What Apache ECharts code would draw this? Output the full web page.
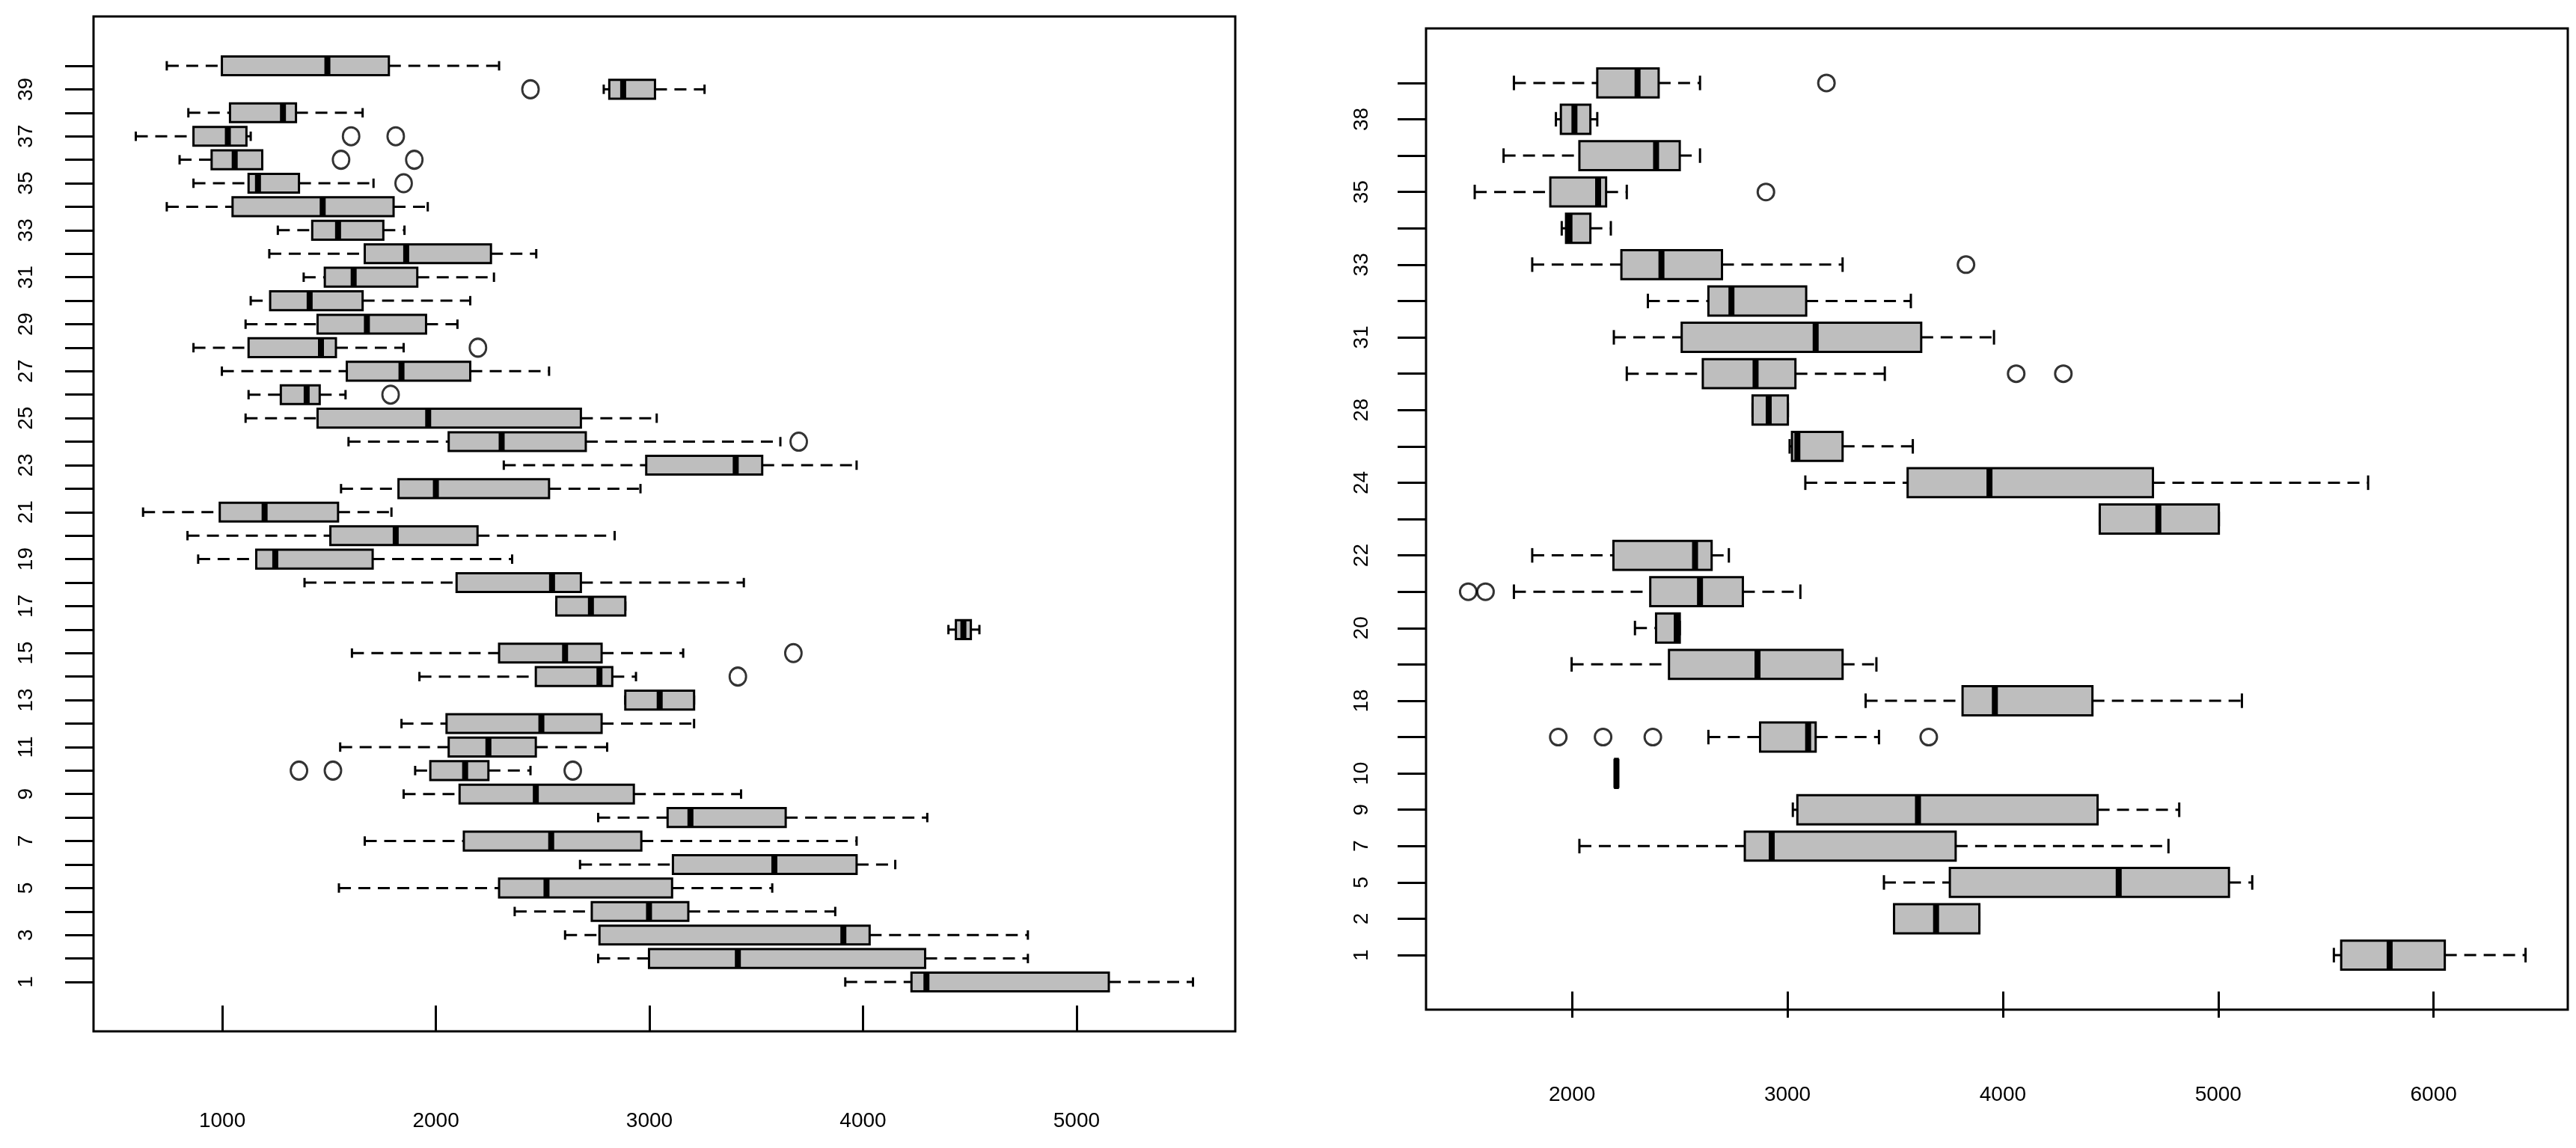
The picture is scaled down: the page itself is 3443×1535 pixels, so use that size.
<!DOCTYPE html>
<html><head><meta charset="utf-8">
<script src="https://cdn.jsdelivr.net/npm/echarts@6/dist/echarts.min.js"></script>
<style>html,body{margin:0;padding:0;background:#fff}#c{width:3443px;height:1535px}</style>
</head><body><div id="c"></div>
<script>
// ---------- LEFT PANEL (40 groups, bottom -> top) ----------
const leftCategories = ['1','2','3','4','5','6','7','8','9','10','11','12','13','14','15','16','17','18','19','20',
  '21','22','23','24','25','26','27','28','29','30','31','32','33','34','35','36','37','38','39','40'];
const leftLow  = [3917,2760,2605,2369,1546,2675,1667,2760,1849,1903,1552,1839,2887,1923,1607,4400,2564,1385,887,837,
  629,1556,2318,1591,1109,1123,998,865,1109,1133,1381,1220,1260,740,865,800,595,841,2786,740];
const leftQ1   = [4227,2998,2766,2730,2296,3110,2131,3085,2111,1974,2060,2050,2887,2468,2296,4435,2564,2097,1159,1506,
  988,1825,2985,2060,1446,1274,1583,1123,1446,1224,1480,1667,1421,1048,1123,950,865,1036,2812,998];
const leftMed  = [4297,3414,3908,2998,2518,3585,2540,3192,2468,2137,2246,2494,3048,2766,2605,4470,2726,2544,1248,1812,
  1198,2000,3404,2308,1964,1395,1839,1462,1677,1409,1615,1861,1542,1470,1167,1058,1026,1284,2877,1492];
const leftQ3   = [5151,4291,4031,3182,3106,3970,2962,3638,2927,2246,2468,2776,3209,2826,2776,4505,2887,2679,1704,2195,
  1542,2530,3528,2702,2679,1456,2161,1532,1954,1657,1913,2258,1754,1802,1359,1187,1113,1345,3026,1780];
const leftHigh = [5545,4772,4772,3870,3575,4151,3970,4301,3429,2443,2802,3209,3209,2937,3158,4545,2887,3442,2357,2837,
  1792,2958,3970,3613,3034,1577,2530,1849,2101,2161,2272,2470,1853,1962,1708,1187,1133,1657,3258,2296];
const leftOutGroup = ['10','10','10','14','15','24','26','28','35','36','36','37','37','39'];
const leftOutValue = [1359,1518,2641,3414,3674,3699,1788,2197,1849,1556,1899,1603,1812,2443];
const leftTickLabels = ['1','3','5','7','9','11','13','15','17','19','21','23','25','27','29','31','33','35','37','39'];
const leftXTicks = [1000,2000,3000,4000,5000];

// ---------- RIGHT PANEL (25 groups, bottom -> top) ----------
const rightCategories = ['1','2','5','7','9','10','11','18','19','20','21','22','23','24','25','28','29','31','32','33',
  '34','35','36','38','39'];
const rightLow  = [5537,3495,3448,2034,3025,2200,2633,3363,1998,2292,1730,1815,4450,3083,3010,2838,2254,2194,2352,1815,
  1952,1548,1682,1925,1730];
const rightQ1   = [5571,3495,3754,2802,3046,2200,2873,3813,2450,2390,2363,2192,4450,3558,3021,2838,2607,2509,2633,2229,
  1972,1899,2034,1948,2117];
const rightMed  = [5796,3690,4538,2927,3606,2206,3096,3963,2861,2486,2594,2571,4722,3938,3046,2913,2852,3131,2740,2415,
  1988,2121,2390,2011,2304];
const rightQ3   = [6052,3891,5050,3781,4440,2212,3131,4416,3256,2500,2793,2648,5003,4697,3256,3002,3037,3621,3087,2696,
  2085,2158,2500,2085,2402];
const rightHigh = [6427,3891,5158,4769,4819,2212,3425,5110,3413,2500,3060,2728,5003,5696,3582,3002,3452,3959,3573,3256,
  2180,2254,2594,2117,2594];
const rightOutGroup = ['11','11','11','11','21','21','29','29','33','35','39'];
const rightOutValue = [1936,2144,2375,3656,1518,1598,4062,4281,3829,2900,3181];
const rightTickLabels = ['1','2','5','7','9','10','18','20','22','24','28','31','33','35','38'];
const rightXTicks = [2000,3000,4000,5000,6000];

// ---------- build ----------
function boxData(cats, lo, q1, md, q3, hi) {
  return cats.map((c, i) => [i + 1, lo[i], q1[i], md[i], q3[i], hi[i]]);
}
function outData(cats, groups, vals) {
  return groups.map((g, i) => [vals[i], cats.indexOf(g) + 1]);
}
function positionsOf(cats, labels) { return labels.map(l => cats.indexOf(l) + 1); }

function renderBox(params, api) {
  const pos = api.value(0);
  const lo = api.value(1), q1 = api.value(2), md = api.value(3), q3 = api.value(4), hi = api.value(5);
  const unit = Math.abs(api.size([0, 1])[1]);
  const h = unit * 0.8, half = h / 2, st = h / 4;
  const y = api.coord([md, pos])[1];
  const X = v => api.coord([v, pos])[0];
  const dash = { stroke: '#000', lineWidth: 3, lineDash: [16, 10], fill: null };
  const solid = { stroke: '#000', lineWidth: 3, fill: null };
  const ch = [];
  if (lo < q1) ch.push({ type: 'line', shape: { x1: X(lo), y1: y, x2: X(q1), y2: y }, style: dash });
  if (hi > q3) ch.push({ type: 'line', shape: { x1: X(q3), y1: y, x2: X(hi), y2: y }, style: dash });
  ch.push({ type: 'line', shape: { x1: X(lo), y1: y - st, x2: X(lo), y2: y + st }, style: solid });
  ch.push({ type: 'line', shape: { x1: X(hi), y1: y - st, x2: X(hi), y2: y + st }, style: solid });
  ch.push({ type: 'rect', shape: { x: X(q1), y: y - half, width: Math.max(X(q3) - X(q1), 1), height: h },
    style: { fill: '#bebebe', stroke: '#000', lineWidth: 3 } });
  ch.push({ type: 'line', shape: { x1: X(md), y1: y - half, x2: X(md), y2: y + half },
    style: { stroke: '#000', lineWidth: 8 } });
  return { type: 'group', children: ch };
}

const labelFont = { color: '#000', fontSize: 28, fontFamily: "'Liberation Sans Narrow', 'Liberation Sans', Arial, sans-serif" };

function xAxisCfg(idx, min, max, ticks, margin) {
  return {
    type: 'value', gridIndex: idx, min: min, max: max,
    splitLine: { show: false }, axisLine: { show: false },
    axisTick: { show: true, length: 35, lineStyle: { color: '#000', width: 3 }, customValues: ticks },
    axisLabel: Object.assign({ margin: margin, customValues: ticks, formatter: v => String(v) }, labelFont)
  };
}
function yAxisCfg(idx, min, max, cats, labels, margin) {
  const all = cats.map((c, i) => i + 1);
  return {
    type: 'value', gridIndex: idx, min: min, max: max,
    splitLine: { show: false }, axisLine: { show: false },
    axisTick: { show: true, length: 38, lineStyle: { color: '#000', width: 3 }, customValues: all },
    axisLabel: Object.assign({ margin: margin, rotate: 90, customValues: positionsOf(cats, labels),
      formatter: v => cats[Math.round(v) - 1] }, labelFont)
  };
}

const chart = echarts.init(document.getElementById('c'), null, { renderer: 'canvas' });
chart.setOption({
  animation: false,
  backgroundColor: '#fff',
  grid: [
    { left: 125, top: 22, width: 1526, height: 1357, show: true, borderColor: '#000', borderWidth: 3, backgroundColor: 'transparent' },
    { left: 1906, top: 38, width: 1526, height: 1312, show: true, borderColor: '#000', borderWidth: 3, backgroundColor: 'transparent' }
  ],
  xAxis: [
    xAxisCfg(0, 397, 5743, leftXTicks, 106),
    xAxisCfg(1, 1322, 6623, rightXTicks, 100)
  ],
  yAxis: [
    yAxisCfg(0, -1.1, 42.1, leftCategories, leftTickLabels, 76),
    yAxisCfg(1, -0.5, 26.5, rightCategories, rightTickLabels, 72)
  ],
  series: [
    { type: 'custom', xAxisIndex: 0, yAxisIndex: 0, renderItem: renderBox,
      encode: { x: [1, 2, 3, 4, 5], y: 0 },
      data: boxData(leftCategories, leftLow, leftQ1, leftMed, leftQ3, leftHigh) },
    { type: 'scatter', xAxisIndex: 0, yAxisIndex: 0, symbol: 'circle', symbolSize: [22, 24],
      itemStyle: { color: 'rgba(0,0,0,0)', borderColor: '#000', borderWidth: 3 },
      data: outData(leftCategories, leftOutGroup, leftOutValue) },
    { type: 'custom', xAxisIndex: 1, yAxisIndex: 1, renderItem: renderBox,
      encode: { x: [1, 2, 3, 4, 5], y: 0 },
      data: boxData(rightCategories, rightLow, rightQ1, rightMed, rightQ3, rightHigh) },
    { type: 'scatter', xAxisIndex: 1, yAxisIndex: 1, symbol: 'circle', symbolSize: 22,
      itemStyle: { color: 'rgba(0,0,0,0)', borderColor: '#000', borderWidth: 3 },
      data: outData(rightCategories, rightOutGroup, rightOutValue) }
  ]
});
</script>
</body></html>
